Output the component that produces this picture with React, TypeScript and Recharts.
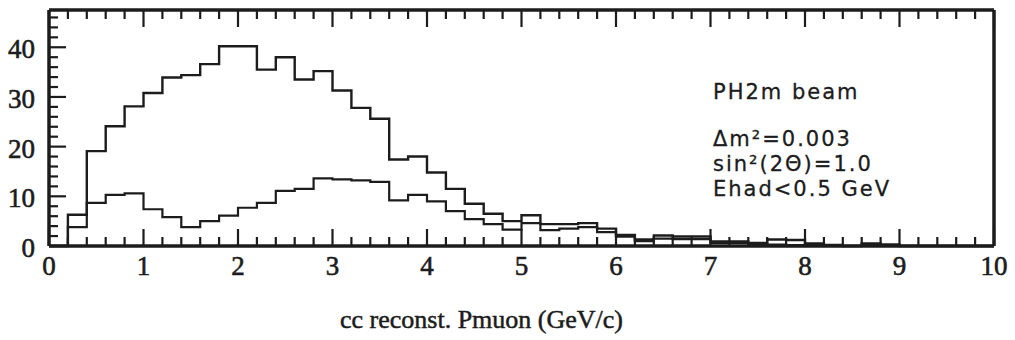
import { LineChart, Line, XAxis, YAxis } from "recharts";

// histogram bins, 0.2 GeV/c wide, from 0 to 10
const binWidth = 0.2;
const upperCounts = [
  0, 6.3, 19.1, 24.1, 28.1, 30.8, 33.9, 34.4, 36.6, 40.2,
  40.2, 35.5, 38.0, 33.5, 35.2, 31.3, 27.8, 25.6, 17.4, 18.0,
  14.8, 11.5, 8.5, 6.5, 5.0, 6.2, 4.4, 4.4, 4.6, 3.5,
  2.2, 1.3, 2.1, 1.9, 1.9, 0.9, 0.9, 0.6, 1.3, 1.2,
  0.5, 0.2, 0, 0.5, 0.3, 0, 0, 0, 0, 0,
];
const lowerCounts = [
  0, 3.8, 8.7, 10.3, 10.6, 7.4, 5.8, 3.8, 5.0, 6.1,
  7.7, 8.7, 11.1, 11.5, 13.6, 13.4, 13.2, 12.9, 9.2, 10.3,
  9.0, 7.0, 5.4, 4.4, 3.3, 4.6, 3.2, 3.5, 3.8, 2.8,
  1.9, 1.0, 1.5, 1.4, 1.4, 0.6, 0.6, 0.4, 0.3, 0.2,
  0.3, 0, 0, 0.3, 0, 0, 0, 0, 0, 0,
];

const xLabels = ["0", "1", "2", "3", "4", "5", "6", "7", "8", "9", "10"];
const yLabels = ["0", "10", "20", "30", "40"];
const xTitle = "cc reconst. Pmuon (GeV/c)";
const beamLabel = "PH2m beam";
const paramLines = ["Δm²=0.003", "sin²(2Θ)=1.0", "Ehad<0.5 GeV"];

const X_MAX = 10;
const Y_MAX = 47.5;
const INK = "#1c1c1c";

const r1 = (v: number) => Math.round(v * 10) / 10;

const data = upperCounts.map((u, i) => ({
  x: r1(i * binWidth),
  upper: u,
  lower: lowerCounts[i],
}));
// closing point so the last step reaches the right edge
data.push({
  x: X_MAX,
  upper: upperCounts[upperCounts.length - 1],
  lower: lowerCounts[lowerCounts.length - 1],
});

const xTicks = Array.from({ length: 51 }, (_, i) => r1(i * binWidth));
const yLeftTicks = Array.from({ length: 24 }, (_, i) => i * 2);
const yRightTicks = Array.from({ length: 48 }, (_, i) => i);

const MAJOR = 17;
const MINOR = 9;
const isMajorX = (v: number) => Math.abs(v - Math.round(v)) < 1e-6;

const serif = "'Liberation Serif', 'Times New Roman', serif";
const sans = "'DejaVu Sans', sans-serif";

function BottomTick(props: any) {
  const { x, y, payload } = props;
  const v = payload.value as number;
  const major = isMajorX(v);
  const label = major ? xLabels[Math.round(v)] : null;
  return (
    <g>
      <line x1={x} x2={x} y1={y} y2={y - (major ? MAJOR : MINOR)} stroke={INK} strokeWidth={2.2} />
      {label != null && (
        <text
          x={x}
          y={y + 29}
          textAnchor="middle"
          fontFamily={serif}
          fontSize={27}
          fill={INK}
          stroke={INK}
          strokeWidth={0.6}
        >
          {label}
        </text>
      )}
    </g>
  );
}

function TopTick(props: any) {
  const { x, y, payload } = props;
  const major = isMajorX(payload.value);
  return <line x1={x} x2={x} y1={y} y2={y + (major ? MAJOR : MINOR)} stroke={INK} strokeWidth={2.2} />;
}

function LeftTick(props: any) {
  const { x, y, payload } = props;
  const v = payload.value as number;
  const major = v % 10 === 0;
  return (
    <g>
      <line x1={x} x2={x + (major ? MAJOR : MINOR)} y1={y} y2={y} stroke={INK} strokeWidth={2.2} />
      {major && (
        <text
          x={x - 14}
          y={y + 11}
          textAnchor="end"
          fontFamily={serif}
          fontSize={27}
          fill={INK}
          stroke={INK}
          strokeWidth={0.6}
        >
          {yLabels[v / 10]}
        </text>
      )}
    </g>
  );
}

function RightTick(props: any) {
  const { x, y, payload } = props;
  const v = payload.value as number;
  const len = v % 10 === 0 ? MAJOR + 1 : v % 5 === 0 ? 12 : MINOR;
  return <line x1={x} x2={x - len} y1={y} y2={y} stroke={INK} strokeWidth={2} />;
}

const frame = { stroke: INK, strokeWidth: 3.5 };

export default function App() {
  return (
    <div
      style={{
        position: "absolute",
        left: 0,
        top: 0,
        width: 1015,
        height: 340,
        background: "#fff",
      }}
    >
      <LineChart
        width={1015}
        height={340}
        data={data}
        margin={{ top: 9, right: 20, bottom: 93, left: 48 }}
      >
        <XAxis
          xAxisId="b"
          dataKey="x"
          type="number"
          domain={[0, X_MAX]}
          ticks={xTicks}
          interval={0}
          height={1}
          tickSize={0}
          tickMargin={0}
          tickLine={false}
          axisLine={frame}
          tick={(p: any) => <BottomTick {...p} />}
        />
        <XAxis
          xAxisId="t"
          orientation="top"
          dataKey="x"
          type="number"
          domain={[0, X_MAX]}
          ticks={xTicks}
          interval={0}
          height={1}
          tickSize={0}
          tickMargin={0}
          tickLine={false}
          axisLine={frame}
          tick={(p: any) => <TopTick {...p} />}
        />
        <YAxis
          yAxisId="l"
          type="number"
          domain={[0, Y_MAX]}
          ticks={yLeftTicks}
          interval={0}
          width={1}
          tickSize={0}
          tickMargin={0}
          tickLine={false}
          axisLine={frame}
          tick={(p: any) => <LeftTick {...p} />}
        />
        <YAxis
          yAxisId="r"
          orientation="right"
          type="number"
          domain={[0, Y_MAX]}
          ticks={yRightTicks}
          interval={0}
          width={1}
          tickSize={0}
          tickMargin={0}
          tickLine={false}
          axisLine={frame}
          tick={(p: any) => <RightTick {...p} />}
        />
        <Line
          xAxisId="b"
          yAxisId="l"
          dataKey="upper"
          type="stepAfter"
          stroke={INK}
          strokeWidth={2.4}
          dot={false}
          isAnimationActive={false}
        />
        <Line
          xAxisId="b"
          yAxisId="l"
          dataKey="lower"
          type="stepAfter"
          stroke={INK}
          strokeWidth={2.2}
          dot={false}
          isAnimationActive={false}
        />
      </LineChart>

      <div
        style={{
          position: "absolute",
          left: 713,
          top: 80,
          fontFamily: sans,
          fontSize: 21,
          letterSpacing: 2,
          color: INK,
          lineHeight: "25px",
          whiteSpace: "nowrap",
          WebkitTextStroke: "0.3px " + INK,
        }}
      >
        <div>{beamLabel}</div>
        <div style={{ height: 22 }} />
        {paramLines.map((t) => (
          <div key={t}>{t}</div>
        ))}
      </div>

      <div
        style={{
          position: "absolute",
          left: 340,
          top: 305,
          fontFamily: serif,
          fontSize: 26,
          color: INK,
          whiteSpace: "nowrap",
          WebkitTextStroke: "0.5px " + INK,
        }}
      >
        {xTitle}
      </div>
    </div>
  );
}
